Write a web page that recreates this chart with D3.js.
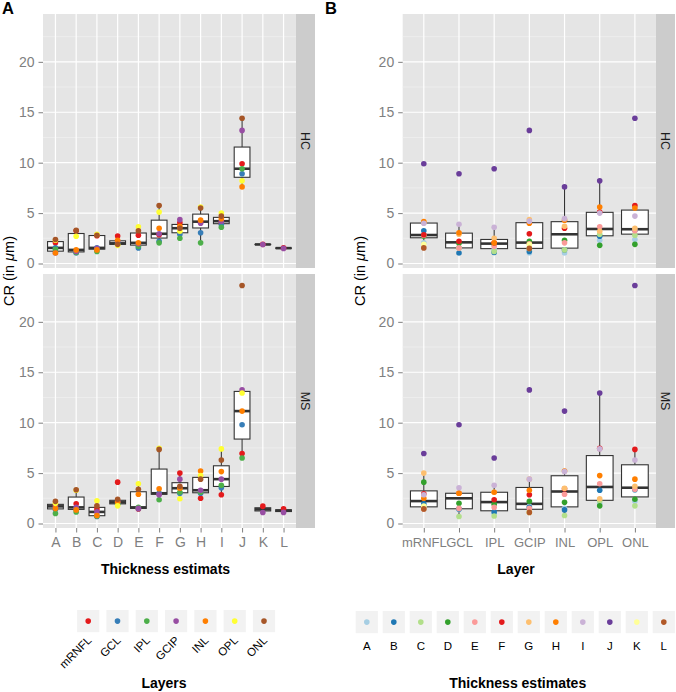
<!DOCTYPE html>
<html><head><meta charset="utf-8">
<script src="https://cdnjs.cloudflare.com/ajax/libs/d3/7.8.5/d3.min.js"></script>
<style>body{margin:0;background:#fff} text{font-family:"Liberation Sans",Arial,Helvetica,sans-serif}</style>
</head><body><svg id="c" width="676" height="692"></svg>
<script>
// ---------- data ----------
const layers = ["mRNFL","GCL","IPL","GCIP","INL","OPL","ONL"];
const estimates = ["A","B","C","D","E","F","G","H","I","J","K","L"];
const groups = ["HC","MS"];
const layerColors = ["#E41A1C","#377EB8","#4DAF4A","#984EA3","#FF7F00","#FFFF33","#A65628"];
const estimateColors = ["#A6CEE3","#1F78B4","#B2DF8A","#33A02C","#FB9A99","#E31A1C","#FDBF6F","#FF7F00","#CAB2D6","#6A3D9A","#FFFF99","#B15928"];
const yTicks = [0,5,10,15,20];
// CR (in µm): rows = thickness estimates A..L, columns = layers (mRNFL..ONL); null = not available
const crHC = [
  [2.05,1.55,1.40,1.05,1.05,2.30,2.38],
  [3.25,1.05,1.10,1.20,1.35,2.70,3.30],
  [2.75,1.55,1.20,1.50,1.35,2.90,2.80],
  [2.72,2.00,1.90,2.20,2.30,1.80,1.90],
  [2.80,1.55,1.70,1.95,2.05,3.65,3.25],
  [2.85,2.20,2.05,2.95,3.50,5.10,5.75],
  [4.05,2.90,2.50,4.35,3.70,3.20,3.50],
  [4.15,3.05,2.05,4.00,4.30,5.60,5.50],
  [4.00,3.90,3.60,4.20,4.45,5.00,4.70],
  [9.90,8.90,9.40,13.20,7.60,8.20,14.40],
  [1.90,null,null,1.88,null,null,null],
  [1.55,null,null,1.50,null,null,null]
];
const crMS = [
  [1.80,1.40,1.00,1.70,1.50,2.00,2.20],
  [1.95,1.45,1.15,1.60,1.35,3.30,3.35],
  [1.45,0.70,0.75,1.15,0.80,2.25,1.75],
  [4.10,2.00,1.90,2.20,2.10,1.75,2.40],
  [1.45,1.50,1.60,1.50,2.90,3.95,3.40],
  [2.95,3.00,2.35,2.85,3.45,7.45,7.35],
  [5.00,3.00,3.10,4.40,3.50,2.45,3.70],
  [2.50,3.00,3.10,3.30,5.20,4.75,4.40],
  [2.85,3.55,3.80,4.40,5.15,7.40,6.30],
  [6.95,9.80,6.50,13.25,11.15,12.95,23.60],
  [1.72,null,null,1.09,null,null,null],
  [1.45,null,null,1.10,null,null,null]
];

// ---------- records ----------
const tables = {HC: crHC, MS: crMS};
const records = [];
groups.forEach(g => tables[g].forEach((row, i) => row.forEach((v, j) => {
  if (v != null) records.push({group: g, estimate: estimates[i], layer: layers[j], value: v});
})));

const svg = d3.select("#c");
const ext = d3.extent(records, d => d.value);
const pad = (ext[1] - ext[0]) * 0.05;
const yDomain = [ext[0] - pad, ext[1] + pad];

const panelTops = [14, 274], panelH = 254, stripW = 19;
const tickColor = "#7F7F7F";

function boxStats(vals) {
  const s = vals.slice().sort(d3.ascending);
  const q1 = d3.quantile(s, .25), med = d3.quantile(s, .5), q3 = d3.quantile(s, .75);
  const iqr = q3 - q1;
  const lo = d3.min(s.filter(v => v >= q1 - 1.5 * iqr));
  const hi = d3.max(s.filter(v => v <= q3 + 1.5 * iqr));
  return {q1, med, q3, lo, hi};
}

function drawPanelSet(opts) {
  const {left, right, cats, key, colorKey, colorDomain, colors, yTitleX, xTickSize} = opts;
  const x = d3.scalePoint().domain(cats).range([left, right]).padding(0.6);
  const col = d3.scaleOrdinal().domain(colorDomain).range(colors);
  const bw = x.step() * 0.76;
  groups.forEach((g, f) => {
    const top = panelTops[f];
    const y = d3.scaleLinear().domain(yDomain).range([top + panelH, top]);
    const gp = svg.append("g");
    gp.append("rect").attr("x", left).attr("y", top).attr("width", right - left).attr("height", panelH).attr("fill", "#E5E5E5");
    // minor grid
    const minor = d3.range(yTicks.length - 1).map(i => (yTicks[i] + yTicks[i + 1]) / 2).concat([yTicks[yTicks.length-1] + (yTicks[1]-yTicks[0])/2]);
    gp.selectAll(".mn").data(minor.filter(v => v < yDomain[1])).join("line")
      .attr("x1", left).attr("x2", right).attr("y1", d => y(d)).attr("y2", d => y(d))
      .attr("stroke", "#F2F2F2").attr("stroke-width", 0.6);
    gp.selectAll(".mj").data(yTicks).join("line")
      .attr("x1", left).attr("x2", right).attr("y1", d => y(d)).attr("y2", d => y(d))
      .attr("stroke", "#fff").attr("stroke-width", 1.2);
    gp.selectAll(".vx").data(cats).join("line")
      .attr("x1", d => x(d)).attr("x2", d => x(d)).attr("y1", top).attr("y2", top + panelH)
      .attr("stroke", "#fff").attr("stroke-width", 1.2);
    // boxplots
    const recs = records.filter(r => r.group === g);
    cats.forEach(c => {
      const vals = recs.filter(r => r[key] === c).map(r => r.value);
      if (!vals.length) return;
      const st = boxStats(vals);
      const cx = x(c);
      gp.append("line").attr("x1", cx).attr("x2", cx).attr("y1", y(st.q3)).attr("y2", y(st.hi)).attr("stroke", "#333").attr("stroke-width", 1.1);
      gp.append("line").attr("x1", cx).attr("x2", cx).attr("y1", y(st.q1)).attr("y2", y(st.lo)).attr("stroke", "#333").attr("stroke-width", 1.1);
      gp.append("rect").attr("x", cx - bw / 2).attr("y", y(st.q3)).attr("width", bw).attr("height", Math.max(0, y(st.q1) - y(st.q3)))
        .attr("fill", "#fff").attr("stroke", "#333").attr("stroke-width", 1.1);
      gp.append("line").attr("x1", cx - bw / 2).attr("x2", cx + bw / 2).attr("y1", y(st.med)).attr("y2", y(st.med)).attr("stroke", "#333").attr("stroke-width", 2.6);
    });
    // points
    gp.selectAll(".pt").data(recs).join("circle")
      .attr("cx", d => x(d[key])).attr("cy", d => y(d.value)).attr("r", 2.8)
      .attr("fill", d => col(d[colorKey]));
    // strip
    gp.append("rect").attr("x", right).attr("y", top).attr("width", stripW).attr("height", panelH).attr("fill", "#CCCCCC");
    gp.append("text").attr("transform", `translate(${right + stripW / 2 - 4.5},${top + panelH / 2}) rotate(90)`)
      .attr("text-anchor", "middle").attr("font-size", 12.5).attr("fill", "#1a1a1a").text(g);
    // y axis
    const ay = svg.append("g").attr("transform", `translate(${left},0)`)
      .call(d3.axisLeft(y).tickValues(yTicks).tickSize(4.5).tickPadding(4));
    ay.select(".domain").remove();
    ay.selectAll("line").attr("stroke", tickColor);
    ay.selectAll("text").attr("fill", tickColor).attr("font-size", 14).attr("font-family", '"Liberation Sans",Arial,sans-serif');
    if (f === groups.length - 1) {
      const ax = svg.append("g").attr("transform", `translate(0,${top + panelH})`)
        .call(d3.axisBottom(x).tickSize(4.5).tickPadding(5));
      ax.select(".domain").remove();
      ax.selectAll("line").attr("stroke", tickColor);
      ax.selectAll("text").attr("fill", tickColor).attr("font-size", xTickSize).attr("font-family", '"Liberation Sans",Arial,sans-serif');
    }
  });
  // y title
  const t = svg.append("text").attr("transform", `translate(${yTitleX},271) rotate(-90)`)
    .attr("text-anchor", "middle").attr("font-size", 14.5).attr("fill", "#000");
  t.append("tspan").text("CR (in ");
  t.append("tspan").attr("font-style", "italic").text("\u03bc");
  t.append("tspan").text("m)");
}

drawPanelSet({left: 43, right: 296, cats: estimates, key: "estimate", colorKey: "layer",
  colorDomain: layers, colors: layerColors, yTitleX: 14, xTickSize: 14});
drawPanelSet({left: 402.7, right: 656, cats: layers, key: "layer", colorKey: "estimate",
  colorDomain: estimates, colors: estimateColors, yTitleX: 365, xTickSize: 13});

// panel letters
svg.append("text").attr("x", 2).attr("y", 14).attr("font-size", 16.5).attr("font-weight", "bold").text("A");
svg.append("text").attr("x", 325).attr("y", 14).attr("font-size", 16.5).attr("font-weight", "bold").text("B");

// x titles
svg.append("text").attr("x", 165.5).attr("y", 574).attr("text-anchor", "middle").attr("font-size", 14).attr("font-weight", "bold").text("Thickness estimats");
svg.append("text").attr("x", 516).attr("y", 574).attr("text-anchor", "middle").attr("font-size", 14).attr("font-weight", "bold").text("Layer");

// legend A (layers)
const legA = svg.append("g");
layers.forEach((l, i) => {
  const cx = 88.2 + 29.3 * i;
  legA.append("rect").attr("x", cx - 11.1).attr("y", 610).attr("width", 22.2).attr("height", 22.2).attr("fill", "#F2F2F2");
  legA.append("circle").attr("cx", cx).attr("cy", 621.1).attr("r", 2.8).attr("fill", layerColors[i]);
  legA.append("text").attr("transform", `translate(${cx + 4},${641}) rotate(-45)`).attr("text-anchor", "end")
    .attr("font-size", 11.5).attr("fill", "#000").text(l);
});
svg.append("text").attr("x", 164).attr("y", 688).attr("text-anchor", "middle").attr("font-size", 14).attr("font-weight", "bold").text("Layers");

// legend B (thickness estimates)
const legB = svg.append("g");
estimates.forEach((e, i) => {
  const cx = 366.8 + 27 * i;
  legB.append("rect").attr("x", cx - 11.1).attr("y", 611).attr("width", 22.2).attr("height", 22.2).attr("fill", "#F2F2F2");
  legB.append("circle").attr("cx", cx).attr("cy", 622.1).attr("r", 2.8).attr("fill", estimateColors[i]);
  legB.append("text").attr("x", cx).attr("y", 649.5).attr("text-anchor", "middle").attr("font-size", 11.5).attr("fill", "#000").text(e);
});
svg.append("text").attr("x", 517.7).attr("y", 688).attr("text-anchor", "middle").attr("font-size", 14).attr("font-weight", "bold").text("Thickness estimates");
</script>
</body></html>
